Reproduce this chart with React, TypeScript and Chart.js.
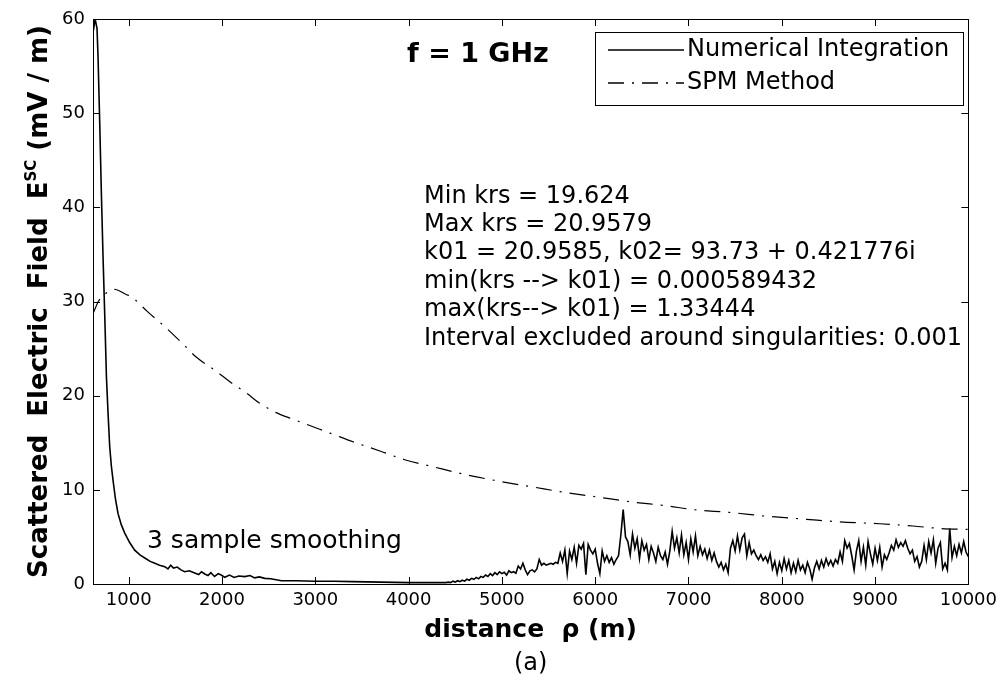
import React, { useEffect, useRef } from "react";
import { Chart, registerables } from "chart.js";

Chart.register(...registerables);

// ---------- data ----------
const X_MIN = 617;
const X_MAX = 10000;
const Y_MIN = 0;
const Y_MAX = 60;
const X_TICKS = [1000, 2000, 3000, 4000, 5000, 6000, 7000, 8000, 9000, 10000];
const Y_TICKS = [0, 10, 20, 30, 40, 50, 60];

// Numerical integration: near-field part (explicit distances)
const NUM_NEAR_DIST = [
  617, 640, 660, 671, 689, 707, 725, 743, 761, 778,
  796, 814, 832, 858, 885, 920, 957, 1010, 1064, 1120,
  1172, 1230, 1280, 1330, 1386, 1420, 1450, 1480, 1520, 1560,
  1600, 1650, 1700, 1750, 1780, 1815, 1850, 1880, 1920, 1960,
  2000, 2030, 2080, 2130, 2180, 2244, 2300, 2350, 2400, 2458,
  2520, 2580, 2637, 2800, 3000, 3200, 3400, 3700, 4000, 4400,
];
const NUM_NEAR_VALUES = [
  58.5, 60, 59, 56, 49, 41.4, 34.6, 28.5, 22, 18.2,
  14.6, 12.5, 11.0, 9.0, 7.5, 6.3, 5.4, 4.4, 3.6, 3.1,
  2.76, 2.4, 2.2, 2.0, 1.84, 1.6, 2.0, 1.7, 1.8, 1.5,
  1.3, 1.4, 1.2, 1.0, 1.3, 1.06, 0.9, 1.2, 0.8, 1.1,
  0.9, 0.71, 0.95, 0.7, 0.85, 0.78, 0.9, 0.65, 0.75, 0.6,
  0.55, 0.45, 0.35, 0.35, 0.3, 0.3, 0.25, 0.2, 0.15, 0.15,
];

// Numerical integration: far-field noisy part, sampled every 25 m from 4425 m
const NUM_FAR_START = 4425;
const NUM_FAR_STEP = 25;
const NUM_FAR_VALUES = [
  0.2, 0.15, 0.3, 0.2, 0.35, 0.25, 0.4, 0.3, 0.5, 0.4, 0.6, 0.5,
  0.7, 0.55, 0.8, 0.7, 0.95, 0.8, 1.1, 0.9, 1.2, 1.0, 1.3, 1.1,
  1.25, 0.95, 1.4, 1.2, 1.3, 1.15, 1.9, 1.6, 2.2, 1.5, 1.0, 1.4,
  1.5, 1.3, 1.6, 2.6, 2.0, 2.2, 2.0, 2.1, 2.2, 2.1, 2.3, 2.2,
  3.3, 2.4, 3.6, 1.1, 3.5, 2.6, 3.9, 2.2, 4.1, 3.7, 4.3, 1.0,
  4.2, 3.6, 3.2, 3.7, 2.2, 1.1, 3.5, 2.4, 3.0, 2.3, 2.8, 2.1,
  2.6, 3.0, 5.2, 7.9, 5.0, 4.5, 3.1, 5.3, 3.8, 4.8, 2.7, 4.6,
  3.6, 4.2, 2.6, 4.0, 3.3, 2.4, 3.9, 3.0, 2.6, 3.4, 2.1, 3.5,
  5.6, 3.8, 4.9, 3.3, 5.2, 3.1, 4.4, 2.6, 4.8, 3.4, 5.1, 3.0,
  4.0, 3.1, 3.7, 2.7, 3.6, 2.5, 3.3, 2.4, 1.8, 2.3, 1.5, 2.1,
  1.2, 3.8, 4.6, 3.5, 5.1, 3.6, 4.9, 5.3, 3.0, 4.4, 3.2, 3.6,
  3.0, 2.6, 3.1, 2.5, 2.9, 2.3, 3.2, 1.6, 2.4, 1.1, 2.3, 1.4,
  2.7, 1.6, 2.5, 1.2, 2.2, 1.3, 2.5, 1.5, 2.0, 1.2, 2.3, 1.6,
  0.5, 1.7, 2.4, 1.6, 2.5, 1.8, 2.7, 2.0, 2.5, 1.9, 2.6, 2.2,
  3.4, 2.4, 4.6, 3.8, 4.3, 3.0, 1.5, 3.5, 4.6, 2.4, 3.9, 2.0,
  4.5, 3.2, 2.1, 3.8, 2.5, 3.9, 1.8, 3.1, 2.6, 3.3, 4.1, 3.6,
  4.7, 3.9, 4.4, 4.0, 4.6, 3.8, 3.2, 3.6, 2.4, 2.9, 1.8, 2.4,
  4.1, 2.6, 4.5, 3.3, 4.7, 2.2, 3.8, 4.4, 1.6, 2.2, 1.5, 5.9,
  2.8, 4.0, 3.0, 4.2, 3.3, 4.5, 3.4, 2.9,
];

// SPM method
const SPM_DIST = [
  617, 680, 760, 840, 971, 1029, 1204, 1401, 1580, 1723,
  1937, 2081, 2259, 2403, 2581, 2760, 2975, 3190, 3404, 3700,
  3958, 4262, 4620, 4977, 5334, 5692, 6049, 6406, 6764, 7049,
  7443, 7836, 8265, 8622, 9051, 9408, 9694, 10000,
];
const SPM_VALUES = [
  28.7, 30.1, 30.9, 31.3, 30.75, 30.5, 28.9, 27.2, 25.5, 24.1,
  22.6, 21.5, 20.3, 19.2, 18.2, 17.5, 16.7, 15.9, 15.1, 14.1,
  13.2, 12.45, 11.6, 10.9, 10.3, 9.7, 9.2, 8.7, 8.3, 7.9,
  7.6, 7.2, 6.87, 6.6, 6.4, 6.16, 5.9, 5.8,
];

const SERIES_LABELS = ["Numerical Integration", "SPM Method"];
const FREQ_LABEL = "f = 1 GHz";
const INFO_LINES = [
  "Min krs = 19.624",
  "Max krs = 20.9579",
  "k01 = 20.9585, k02= 93.73 + 0.421776i",
  "min(krs --> k01) = 0.000589432",
  "max(krs--> k01) = 1.33444",
  "Interval excluded around singularities: 0.001",
];
const SMOOTH_NOTE = "3 sample smoothing";
const Y_TITLE_MAIN = "Scattered  Electric  Field  E";
const Y_TITLE_SUP = "SC";
const Y_TITLE_UNIT = " (mV / m)";
const X_TITLE = "distance  \u03c1 (m)";
const PANEL_LABEL = "(a)";

const FONT = "'DejaVu Sans', 'Liberation Sans', sans-serif";
const SPM_DASH = [16, 8, 2, 8];

const decorPlugin = {
  id: "matlabDecor",
  afterDraw(chart: any) {
    const { ctx, chartArea } = chart;
    const { left, right, top, bottom } = chartArea;
    const xs = chart.scales.x;
    const ys = chart.scales.y;
    ctx.save();
    ctx.strokeStyle = "#000";
    ctx.fillStyle = "#000";
    ctx.lineWidth = 1;
    // axes box
    ctx.strokeRect(Math.round(left) + 0.5, Math.round(top) + 0.5, Math.round(right - left), Math.round(bottom - top));
    // inward ticks on all sides
    const tl = 7;
    ctx.beginPath();
    X_TICKS.forEach((v) => {
      const px = Math.round(xs.getPixelForValue(v)) + 0.5;
      ctx.moveTo(px, bottom);
      ctx.lineTo(px, bottom - tl);
      ctx.moveTo(px, top);
      ctx.lineTo(px, top + tl);
    });
    Y_TICKS.forEach((v) => {
      const py = Math.round(ys.getPixelForValue(v)) + 0.5;
      ctx.moveTo(left, py);
      ctx.lineTo(left + tl, py);
      ctx.moveTo(right, py);
      ctx.lineTo(right - tl, py);
    });
    ctx.stroke();

    // y title (rotated, with superscript)
    const cy = (top + bottom) / 2;
    const mainFont = `bold 26px ${FONT}`;
    const supFont = `bold 15px ${FONT}`;
    ctx.font = mainFont;
    const w1 = ctx.measureText(Y_TITLE_MAIN).width;
    const w3 = ctx.measureText(Y_TITLE_UNIT).width;
    ctx.font = supFont;
    const w2 = ctx.measureText(Y_TITLE_SUP).width;
    const total = w1 + w2 + w3;
    ctx.save();
    ctx.translate(47, cy);
    ctx.rotate(-Math.PI / 2);
    ctx.textBaseline = "alphabetic";
    ctx.textAlign = "left";
    let pos = -total / 2;
    ctx.font = mainFont;
    ctx.fillText(Y_TITLE_MAIN, pos, 0);
    pos += w1;
    ctx.font = supFont;
    ctx.fillText(Y_TITLE_SUP, pos, -11);
    pos += w2;
    ctx.font = mainFont;
    ctx.fillText(Y_TITLE_UNIT, pos, 0);
    ctx.restore();

    // x title and panel label
    const cx = (left + right) / 2;
    ctx.textAlign = "center";
    ctx.textBaseline = "alphabetic";
    ctx.font = `bold 25px ${FONT}`;
    ctx.fillText(X_TITLE, cx, 637);
    ctx.font = `24px ${FONT}`;
    ctx.fillText(PANEL_LABEL, cx, 670);

    // frequency label
    ctx.textAlign = "left";
    ctx.font = `bold 27px ${FONT}`;
    ctx.fillText(FREQ_LABEL, 407, 62);

    // info text block
    ctx.font = `24px ${FONT}`;
    INFO_LINES.forEach((line, i) => {
      ctx.fillText(line, 424, 202.5 + i * 28.4);
    });

    // smoothing note
    ctx.font = `25px ${FONT}`;
    ctx.fillText(SMOOTH_NOTE, 147, 548);

    // legend
    const lx0 = 595, ly0 = 32, lx1 = 963, ly1 = 105;
    ctx.fillStyle = "#fff";
    ctx.fillRect(lx0, ly0, lx1 - lx0, ly1 - ly0);
    ctx.strokeStyle = "#000";
    ctx.lineWidth = 1;
    ctx.strokeRect(lx0 + 0.5, ly0 + 0.5, lx1 - lx0, ly1 - ly0);
    const rows = [50, 83];
    ctx.lineWidth = 1.3;
    ctx.beginPath();
    ctx.moveTo(608, rows[0]);
    ctx.lineTo(684, rows[0]);
    ctx.stroke();
    ctx.setLineDash(SPM_DASH);
    ctx.beginPath();
    ctx.moveTo(608, rows[1]);
    ctx.lineTo(684, rows[1]);
    ctx.stroke();
    ctx.setLineDash([]);
    ctx.fillStyle = "#000";
    ctx.font = `24px ${FONT}`;
    ctx.textBaseline = "middle";
    ctx.fillText(SERIES_LABELS[0], 687, rows[0]);
    ctx.fillText(SERIES_LABELS[1], 687, rows[1]);
    ctx.restore();
  },
};

export default function App() {
  const canvasRef = useRef<HTMLCanvasElement | null>(null);

  useEffect(() => {
    if (!canvasRef.current) return;
    const numData = [
      ...NUM_NEAR_DIST.map((d, i) => ({ x: d, y: NUM_NEAR_VALUES[i] })),
      ...NUM_FAR_VALUES.map((v, i) => ({ x: NUM_FAR_START + i * NUM_FAR_STEP, y: v })),
    ];
    const spmData = SPM_DIST.map((d, i) => ({ x: d, y: SPM_VALUES[i] }));

    const tickFont = { family: FONT, size: 18 };
    const chart = new Chart(canvasRef.current, {
      type: "line",
      data: {
        datasets: [
          {
            label: SERIES_LABELS[0],
            data: numData,
            borderColor: "#000",
            borderWidth: 1.6,
            pointRadius: 0,
            tension: 0,
          },
          {
            label: SERIES_LABELS[1],
            data: spmData,
            borderColor: "#000",
            borderWidth: 1.2,
            borderDash: SPM_DASH,
            pointRadius: 0,
            cubicInterpolationMode: "monotone",
          },
        ],
      },
      plugins: [decorPlugin],
      options: {
        animation: false,
        responsive: false,
        devicePixelRatio: 1,
        layout: { padding: { top: 19, right: 34, left: 0, bottom: 0 } },
        plugins: {
          legend: { display: false },
          tooltip: { enabled: false },
          title: { display: false },
        },
        scales: {
          x: {
            type: "linear",
            min: X_MIN,
            max: X_MAX,
            afterBuildTicks: (s: any) => {
              s.ticks = X_TICKS.map((v) => ({ value: v }));
            },
            afterFit: (s: any) => {
              s.height = 104;
            },
            grid: { display: false, drawTicks: false },
            border: { display: false },
            ticks: {
              font: tickFont,
              color: "#000",
              padding: 6,
              maxRotation: 0,
              autoSkip: false,
              callback: (v: any) => String(v),
            },
          },
          y: {
            type: "linear",
            min: Y_MIN,
            max: Y_MAX,
            afterBuildTicks: (s: any) => {
              s.ticks = Y_TICKS.map((v) => ({ value: v }));
            },
            afterFit: (s: any) => {
              s.width = 93;
            },
            grid: { display: false, drawTicks: false },
            border: { display: false },
            ticks: {
              font: tickFont,
              color: "#000",
              padding: 8,
              autoSkip: false,
              callback: (v: any) => String(v),
            },
          },
        },
      },
    } as any);
    return () => chart.destroy();
  }, []);

  return (
    <div style={{ position: "absolute", left: 0, top: 0, width: 1003, height: 688, background: "#fff" }}>
      <canvas ref={canvasRef} width={1003} height={688} style={{ width: 1003, height: 688, display: "block" }} />
    </div>
  );
}
